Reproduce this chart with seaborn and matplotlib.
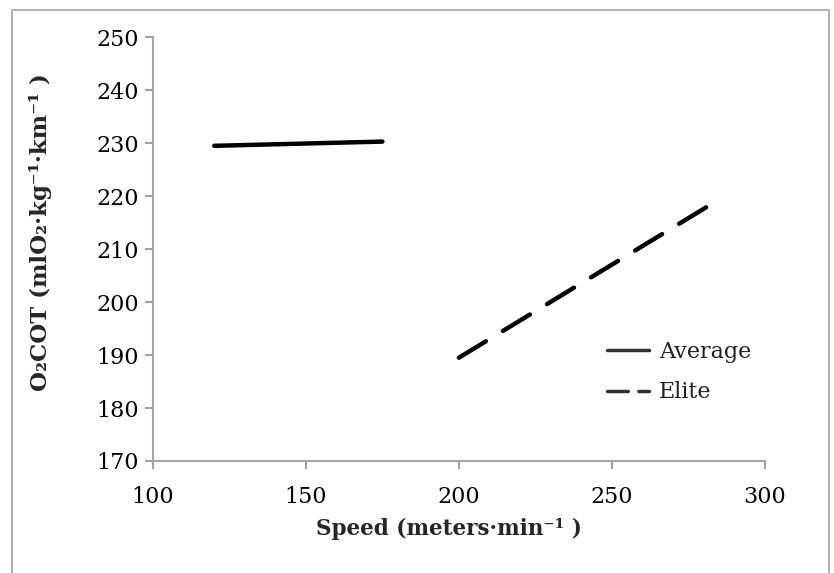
import pandas as pd
import matplotlib
matplotlib.use("Agg")
import matplotlib.pyplot as plt
import seaborn as sns
from matplotlib.patches import Rectangle

# data
avg_speed = [120, 175]
avg_cot = [229.5, 230.3]
elite_speed = [200, 282]
elite_cot = [189.5, 218.3]

x_ticks = [100, 150, 200, 250, 300]
y_ticks = [170, 180, 190, 200, 210, 220, 230, 240, 250]

sns.set_theme(style="white")
plt.rcParams['font.family'] = ['DejaVu Serif']

avg = pd.DataFrame({'speed': avg_speed, 'cot': avg_cot})
elite = pd.DataFrame({'speed': elite_speed, 'cot': elite_cot})

fig = plt.figure(figsize=(8.34, 5.73), dpi=100)
ax = fig.add_axes([0.1835, 0.1955, 0.917 - 0.1835, 0.935 - 0.1955])

sns.lineplot(data=avg, x='speed', y='cot', ax=ax, color='black',
             linewidth=3.2, label='Average', solid_capstyle='round')
sns.lineplot(data=elite, x='speed', y='cot', ax=ax, color='black',
             linewidth=3.2, label='Elite', dashes=False)
ax.lines[-1].set_dashes([7.1, 4.5])
ax.lines[-1].set_dash_capstyle('round')

ax.set_xlim(100, 300)
ax.set_ylim(170, 250)
ax.set_xticks(x_ticks)
ax.set_yticks(y_ticks)
ax.tick_params(axis='both', labelsize=16, colors='#a0a0a0', labelcolor='black',
               direction='out', length=6, width=1.5, left=True, bottom=True, pad=4)
ax.tick_params(axis='x', pad=12)

for side in ['top', 'right']:
    ax.spines[side].set_visible(False)
for side in ['left', 'bottom']:
    ax.spines[side].set_color('#a6a6a6')
    ax.spines[side].set_linewidth(1.5)

ax.set_xlabel('Speed (meters·min⁻¹ )', fontsize=15.5, fontweight='bold')
ax.set_ylabel('O₂COT (mlO₂·kg⁻¹·km⁻¹ )', fontsize=16.5, fontweight='bold')
ax.xaxis.set_label_coords(0.483, -0.135)
ax.yaxis.set_label_coords(-0.165, 0.54)

leg = ax.legend(loc='center left', bbox_to_anchor=(0.742, 0.21), frameon=False,
                fontsize=16, handlelength=1.9, labelspacing=0.85, handletextpad=0.45,
                borderaxespad=0, borderpad=0)
for h in leg.get_lines():
    h.set_linewidth(2.5)
    h.set_color('#333333')
leg.get_lines()[1].set_dashes([6, 3])
for t in leg.get_texts():
    t.set_color('#222222')

fig.patches.append(Rectangle((12 / 834, -0.1), (829 - 12) / 834, 1.1 - 10 / 573,
                             transform=fig.transFigure, fill=False,
                             edgecolor='#a6a6a6', linewidth=1.2))

fig.savefig('out.png', dpi=100)
